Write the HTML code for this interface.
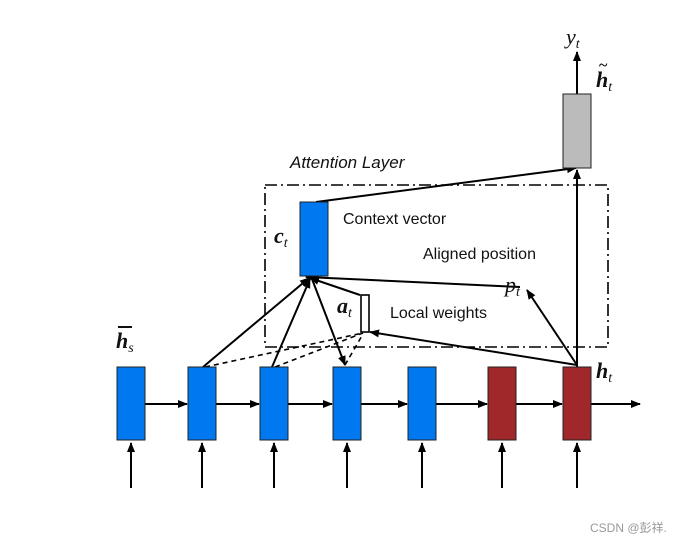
<!DOCTYPE html>
<html><head><meta charset="utf-8"><style>body{margin:0;background:#fff}svg{display:block}</style></head><body>
<svg width="684" height="545" viewBox="0 0 684 545" xmlns="http://www.w3.org/2000/svg">
<defs><marker id="a" markerWidth="10" markerHeight="8" refX="9" refY="4" orient="auto" markerUnits="userSpaceOnUse"><path d="M0,0 L10,4 L0,8 z" fill="#000"/></marker></defs>
<g stroke="#000" stroke-width="2" fill="none">
<rect x="265" y="185" width="343" height="162" stroke-dasharray="12,4,2,4" stroke-width="1.6"/>
<line x1="131" y1="488" x2="131" y2="443" marker-end="url(#a)"/>
<line x1="202" y1="488" x2="202" y2="443" marker-end="url(#a)"/>
<line x1="274" y1="488" x2="274" y2="443" marker-end="url(#a)"/>
<line x1="347" y1="488" x2="347" y2="443" marker-end="url(#a)"/>
<line x1="422" y1="488" x2="422" y2="443" marker-end="url(#a)"/>
<line x1="502" y1="488" x2="502" y2="443" marker-end="url(#a)"/>
<line x1="577" y1="488" x2="577" y2="443" marker-end="url(#a)"/>
<line x1="145" y1="404" x2="187" y2="404" marker-end="url(#a)"/>
<line x1="216" y1="404" x2="259" y2="404" marker-end="url(#a)"/>
<line x1="288" y1="404" x2="332" y2="404" marker-end="url(#a)"/>
<line x1="361" y1="404" x2="407" y2="404" marker-end="url(#a)"/>
<line x1="436" y1="404" x2="487" y2="404" marker-end="url(#a)"/>
<line x1="516" y1="404" x2="562" y2="404" marker-end="url(#a)"/>
<line x1="591" y1="404" x2="640" y2="404" marker-end="url(#a)"/>
<line x1="577" y1="367" x2="577" y2="170" marker-end="url(#a)"/>
<line x1="577" y1="94" x2="577" y2="52" marker-end="url(#a)"/>
<line x1="316" y1="202" x2="576" y2="168" marker-end="url(#a)"/>
<line x1="520" y1="287" x2="306" y2="277" marker-end="url(#a)"/>
<line x1="577" y1="365" x2="527" y2="290" marker-end="url(#a)"/>
<line x1="577" y1="365" x2="370" y2="332" marker-end="url(#a)"/>
<line x1="203" y1="367" x2="309" y2="278" marker-end="url(#a)"/>
<line x1="272" y1="367" x2="310" y2="279" marker-end="url(#a)"/>
<line x1="312" y1="279" x2="345" y2="365" marker-end="url(#a)"/>
<line x1="360" y1="295" x2="310" y2="278" marker-end="url(#a)"/>
<g stroke-dasharray="5,4" stroke-width="1.6">
<line x1="205" y1="367" x2="363" y2="333"/>
<line x1="275" y1="367" x2="363" y2="333"/>
<line x1="345" y1="365" x2="363" y2="334"/>
</g>
</g>
<g stroke="#222" stroke-width="1">
<rect x="117" y="367" width="28" height="73" fill="#0078f0"/>
<rect x="188" y="367" width="28" height="73" fill="#0078f0"/>
<rect x="260" y="367" width="28" height="73" fill="#0078f0"/>
<rect x="333" y="367" width="28" height="73" fill="#0078f0"/>
<rect x="408" y="367" width="28" height="73" fill="#0078f0"/>
<rect x="488" y="367" width="28" height="73" fill="#a0282a"/>
<rect x="563" y="367" width="28" height="73" fill="#a0282a"/>
<rect x="300" y="202" width="28" height="74" fill="#0078f0"/>
<rect x="563" y="94" width="28" height="74" fill="#bbb"/>
<rect x="361" y="295" width="8" height="37" fill="#fff" stroke="#000" stroke-width="1.6"/>
</g>
<g font-family="Liberation Sans, sans-serif" font-size="16" fill="#111">
<text x="290" y="168" font-style="italic" font-size="17">Attention Layer</text>
<text x="343" y="224">Context vector</text>
<text x="423" y="259">Aligned position</text>
<text x="390" y="318">Local weights</text>
</g>
<g font-family="Liberation Serif, serif" fill="#111">
<text x="274" y="243" font-size="22" font-weight="bold" font-style="italic">c<tspan font-size="14" font-weight="normal" dy="4">t</tspan></text>
<text x="337" y="313" font-size="22" font-weight="bold" font-style="italic">a<tspan font-size="14" font-weight="normal" dy="4">t</tspan></text>
<text x="505" y="292" font-size="22" font-style="italic">p<tspan font-size="14" dy="4">t</tspan></text>
<text x="116" y="348" font-size="22" font-weight="bold" font-style="italic">h<tspan font-size="14" font-weight="normal" dy="4">s</tspan></text>
<line x1="118" y1="327" x2="132" y2="327" stroke="#111" stroke-width="2"/>
<text x="596" y="378" font-size="22" font-weight="bold" font-style="italic">h<tspan font-size="14" font-weight="normal" dy="4">t</tspan></text>
<text x="596" y="87" font-size="22" font-weight="bold" font-style="italic">h<tspan font-size="14" font-weight="normal" dy="4">t</tspan></text>
<text x="599" y="70" font-size="16" font-weight="bold">~</text>
<text x="566" y="44" font-size="22" font-style="italic">y<tspan font-size="14" dy="4">t</tspan></text>
</g>
<text x="590" y="532" font-family="Liberation Sans, 'Noto Sans CJK SC', sans-serif" font-size="12" fill="#999">CSDN @彭祥.</text>
</svg>
</body></html>
